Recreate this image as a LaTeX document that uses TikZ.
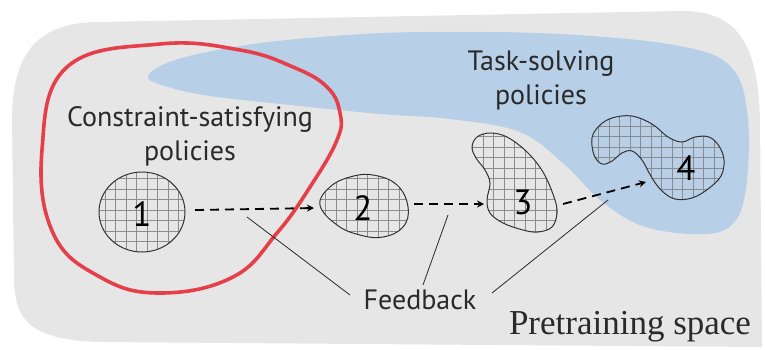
\documentclass[tikz,border=0pt]{standalone}
\usepackage{fontspec}
\setmainfont{Liberation Serif}
\setsansfont{PT Sans}
\usetikzlibrary{arrows.meta}
\definecolor{bgc}{HTML}{E6E6E6}
\definecolor{bluec}{HTML}{B8CFE8}
\definecolor{redc}{HTML}{E5404A}
\definecolor{txt}{HTML}{2A2A2A}
\tikzset{
  lbl/.style={font=\sffamily\fontsize{28}{34}\selectfont, text=txt, align=center},
  num/.style={font=\sffamily\fontsize{35}{35}\selectfont, text=black},
  blobline/.style={draw=black!80, line width=1pt},
  gridline/.style={draw=black!45, line width=0.4pt},
  dasharrow/.style={line width=1.8pt, dash pattern=on 9pt off 6pt, -{Stealth[length=7pt,width=7pt]}},
  fbline/.style={line width=0.8pt, draw=txt},
}
\begin{document}
\begin{tikzpicture}[x=1pt,y=-1pt]
\useasboundingbox (0,0) rectangle (765,349);
% background
\fill[bgc] (100,22) -- (680,11) .. controls (742,10) and (758,50) .. (760,120) -- (762,347) -- (100,342) .. controls (30,340) and (15,320) .. (14,280) -- (12,120) .. controls (12,50) and (40,22) .. (100,22);
% blue region
\fill[bluec] plot[smooth cycle, tension=0.6] coordinates {(148,76) (175,60) (240,46) (320,37) (420,32) (560,34) (680,46) (732,68) (748,120) (745,195) (728,228) (690,234) (640,225) (600,200) (565,165) (520,132) (450,119) (380,114) (300,106) (210,96) (165,86)};
% red loop
\draw[redc, line width=3.6pt] plot[smooth cycle, tension=0.7] coordinates {(160,44) (240,50) (293,67) (327,87) (340,113) (337,140) (310,187) (277,233) (233,277) (160,293) (100,277) (53,233) (42,150) (67,67)};
% blobs
\def\blobA{(142,212) ellipse [x radius=43, y radius=40]}
\def\blobB{plot[smooth cycle, tension=0.7] coordinates {(320,205) (330,187) (350,177) (373,175) (397,185) (408,207) (403,227) (383,237) (360,235) (337,225)}}
\def\blobC{plot[smooth cycle, tension=0.6] coordinates {(472,147) (477,137) (490,133) (507,137) (527,152) (543,172) (554,197) (557,213) (552,227) (538,232) (523,230) (503,223) (490,213) (487,200) (490,183) (485,170) (476,158)}}
\def\blobD{plot[smooth cycle, tension=0.6] coordinates {(592,138) (599,126) (612,118) (632,116) (652,124) (668,137) (682,142) (695,137) (709,137) (719,146) (724,160) (721,176) (708,189) (692,198) (675,199) (662,191) (652,178) (642,160) (632,151) (622,153) (612,161) (602,164) (594,155)}}
\foreach \b in {\blobA,\blobB,\blobC,\blobD}{
  \begin{scope}
    \clip \b;
    \draw[gridline, xstep=10.5pt, ystep=10.5pt] (80,100) grid (760,260);
  \end{scope}
  \draw[blobline] \b;
}
% numbers
\node[num] (n1) at (142,214) {1};
\node[num] (n2) at (363,208) {2};
\node[num] (n3) at (523,202) {3};
\node[num] (n4) at (686,168) {4};
\coordinate (b1e) at (195,210);
\coordinate (b2w) at (314,208);
\coordinate (b2e) at (414,204);
\coordinate (b3w) at (484,204);
\coordinate (b3e) at (563,204);
\coordinate (b4w) at (646,182);
\draw[dasharrow] (b1e) -- (b2w);
\draw[dasharrow] (b2e) -- (b3w);
\draw[dasharrow] (b3e) -- (b4w);
% labels
\node[lbl] (cs) at (190,136) {Constraint-satisfying\\policies};
\node[lbl] (ts) at (541,80) {Task-solving\\policies};
\node[lbl, anchor=center] (fb) at (420,300) {Feedback};
\node[font=\rmfamily\fontsize{35}{35}\selectfont, text=txt, anchor=base] (ps) at (630,334) {Pretraining space};
% feedback lines
\coordinate (f1) at (247,217);
\coordinate (f2) at (448,215);
\coordinate (f3) at (608,200);
\draw[fbline] (350,295) -- (f1);
\draw[fbline] (423,285) -- (f2);
\draw[fbline] (492,293) -- (f3);
\end{tikzpicture}
\end{document}
